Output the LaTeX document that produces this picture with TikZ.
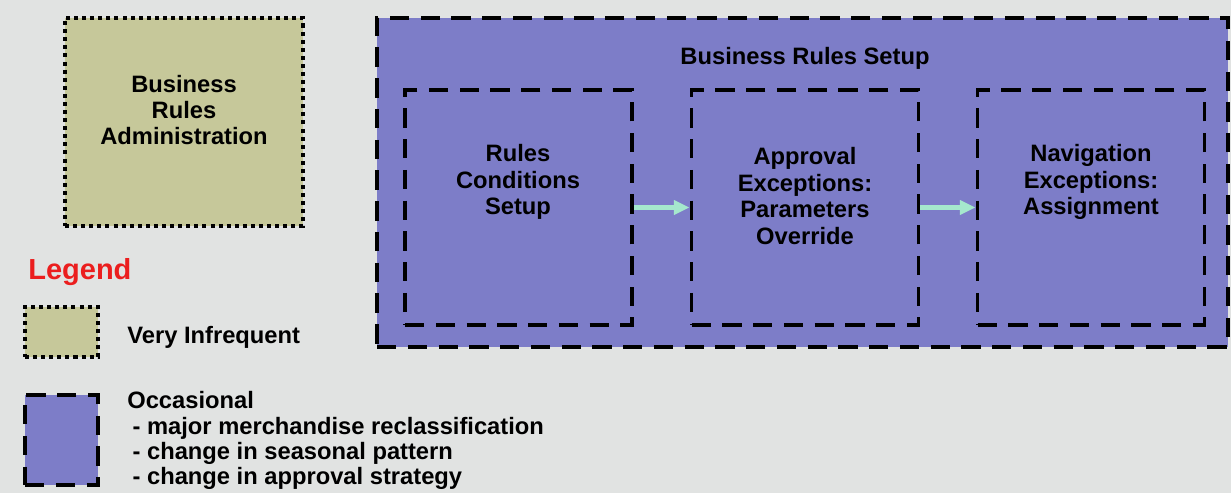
\documentclass[tikz,border=0pt]{standalone}
\usepackage{fontspec}
\setmainfont{Liberation Sans}
\usetikzlibrary{arrows.meta,positioning,calc}
\definecolor{bgGrey}{RGB}{225,227,226}
\definecolor{khaki}{RGB}{198,200,154}
\definecolor{setupBlue}{RGB}{125,125,200}
\definecolor{mint}{RGB}{165,232,205}
\definecolor{legendRed}{RGB}{235,30,30}

\begin{document}
\begin{tikzpicture}[x=0.02cm, y=-0.02cm, font=\fontsize{13.5}{15}\selectfont\bfseries,
  rare/.style={draw, fill=khaki, line width=2.2pt, dash pattern=on 2.3pt off 2.3pt, inner sep=0pt},
  occ/.style={draw, fill=setupBlue, line width=2.2pt, dash pattern=on 11pt off 6.5pt, inner sep=0pt},
  inbox/.style={occ, minimum width=4.54cm, minimum height=4.7cm},
  txt/.style={align=center, inner sep=0pt},
  arr/.style={-{Triangle[length=9pt,width=8pt]}, draw=mint, line width=2.6pt}]
% background
\fill[bgGrey] (0,0) rectangle (1231,493);
\useasboundingbox (0,0) rectangle (1231,493);
% administration
\node[rare, minimum width=4.76cm, minimum height=4.16cm] (admin) at (184,122) {};
\node[txt] (admintxt) at (184,110) {Business\\Rules\\Administration};
% setup
\node[occ, minimum width=17.02cm, minimum height=6.58cm] (setup) at (802.5,182.5) {};
\node[txt] (setuptxt) at (805,58) {Business Rules Setup};
\node[inbox] (cond) at (518.5,207.5) {};
\node[inbox] (appr) at (805,207.5) {};
\node[inbox] (navi) at (1091,207.5) {};
\node[txt] (condtxt) at (518,182) {Rules\\Conditions\\Setup};
\node[txt] (apprtxt) at (805,196) {Approval\\Exceptions:\\Parameters\\Override};
\node[txt] (navitxt) at (1091,182) {Navigation\\Exceptions:\\Assignment};
\draw[arr] (cond) -- (appr);
\draw[arr] (appr) -- (navi);
% legend
\node[anchor=west, inner sep=0pt, text=legendRed, font=\fontsize{16.5}{18}\selectfont\bfseries] (legend) at (28,272) {Legend};
\node[rare, minimum width=1.46cm, minimum height=1.0cm] (keyrare) at (61.5,332) {};
\node[anchor=west, inner sep=0pt] (rarelbl) at (127,337) {Very Infrequent};
\node[occ, minimum width=1.46cm, minimum height=1.8cm] (keyocc) at (61.5,440) {};
\node[anchor=north west, align=left, inner sep=0pt, font=\fontsize{13.5}{14.5}\selectfont\bfseries] (occlbl) at (127,391)
  {Occasional\\ \hspace*{3pt}- major merchandise reclassification\\ \hspace*{3pt}- change in seasonal pattern\\ \hspace*{3pt}- change in approval strategy};
\end{tikzpicture}
\end{document}
